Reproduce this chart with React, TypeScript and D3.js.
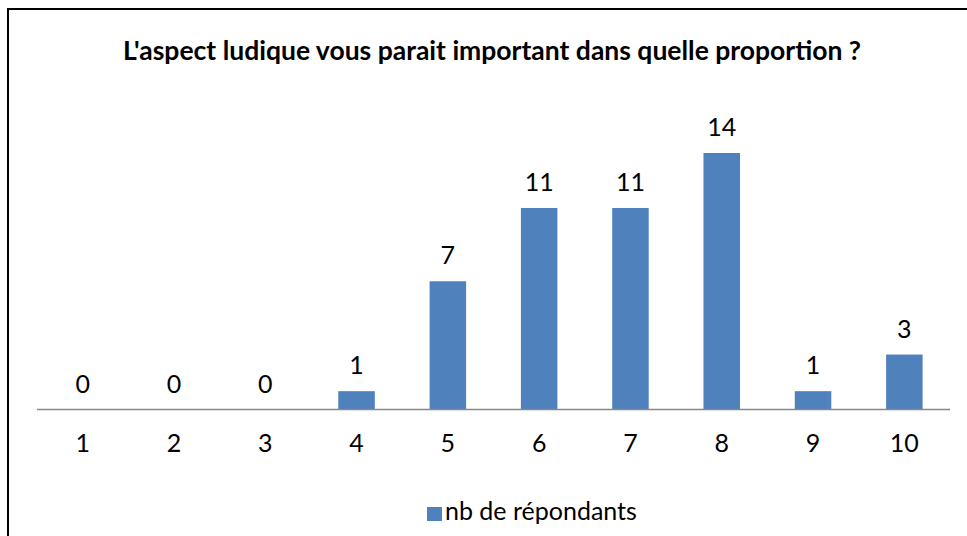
import * as d3 from "d3";

const categories = ["1", "2", "3", "4", "5", "6", "7", "8", "9", "10"];
const values = [0, 0, 0, 1, 7, 11, 11, 14, 1, 3];
const title = "L'aspect ludique vous parait important dans quelle proportion ?";
const seriesName = "nb de répondants";

export default function App() {
  const width = 967;
  const height = 536;
  const font = "Lato, 'Open Sans', sans-serif";

  const x = d3.scaleBand<string>().domain(categories).range([37, 950]).paddingInner(0.6).paddingOuter(0.3);
  const y = d3.scaleLinear().domain([0, 14]).range([409.5, 153]);

  return (
    <svg
      width={width}
      height={height}
      style={{ position: "fixed", left: 0, top: 0, background: "#fff" }}
      fontFamily={font}
    >
      <rect x={8} y={9} width={964} height={540} fill="#fff" stroke="#000" strokeWidth={2} />
      <text x={492} y={60} textAnchor="middle" fontSize={26.5} fontWeight="bold" fill="#000">
        {title}
      </text>

      {values.map((v, i) => {
        const cat = categories[i];
        const bx = x(cat) ?? 0;
        const cx = bx + x.bandwidth() / 2;
        return (
          <g key={cat}>
            {v > 0 && (
              <rect x={bx} y={y(v)} width={x.bandwidth()} height={y(0) - y(v)} fill="#4F81BD" />
            )}
            <text x={cx} y={y(v) - 17} textAnchor="middle" fontSize={25} fill="#000">
              {v}
            </text>
            <text x={cx} y={452} textAnchor="middle" fontSize={25} fill="#000">
              {cat}
            </text>
          </g>
        );
      })}

      <line x1={37} x2={950} y1={y(0)} y2={y(0)} stroke="#898989" strokeWidth={1.5} />

      <rect x={427} y={507} width={15} height={14} fill="#4F81BD" />
      <text x={445} y={520} fontSize={25} fill="#000">
        {seriesName}
      </text>
    </svg>
  );
}
